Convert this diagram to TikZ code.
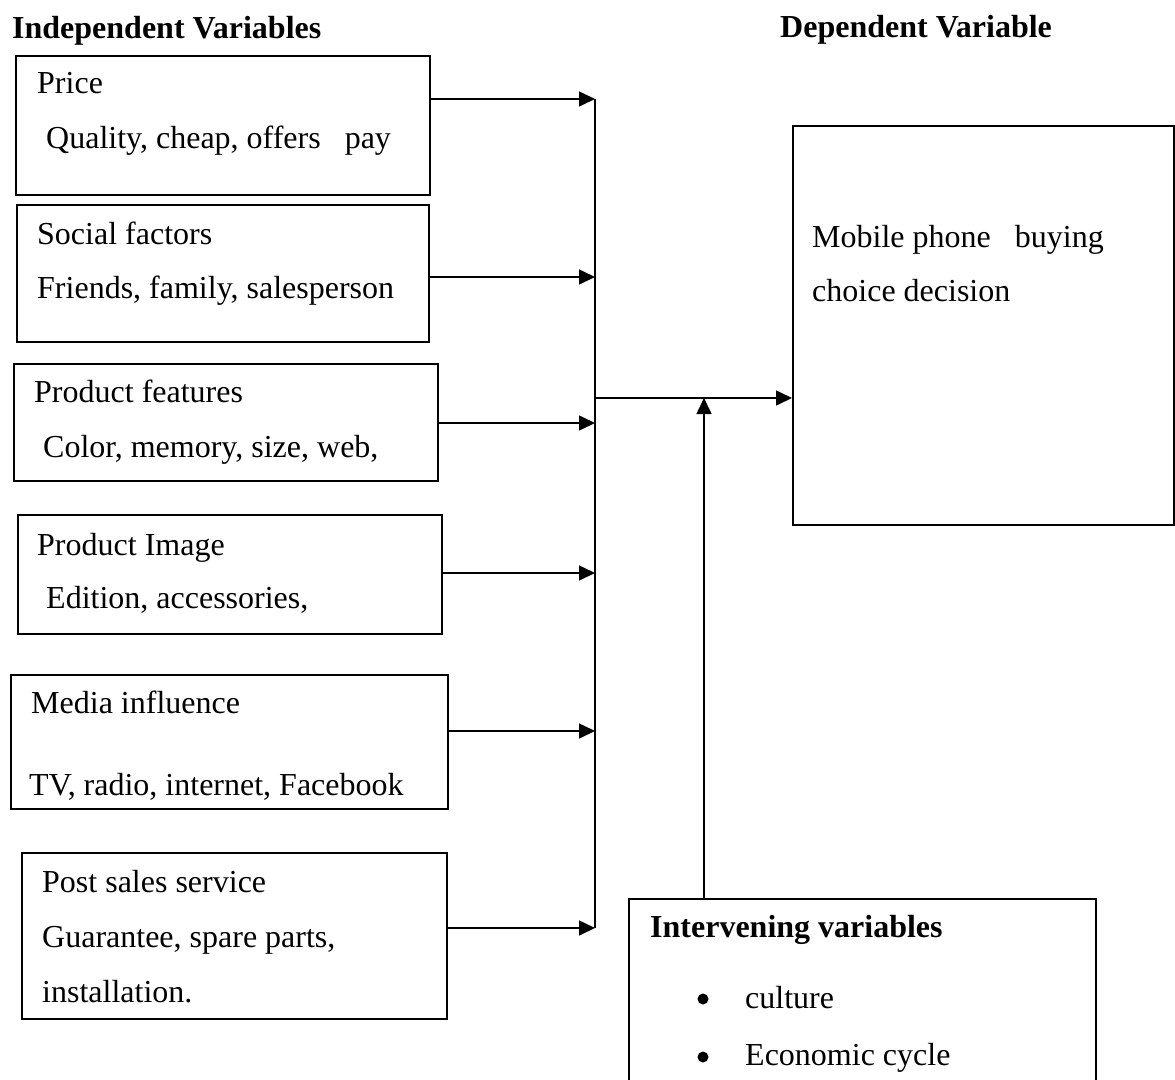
\documentclass[tikz,border=0pt]{standalone}
\usepackage{fontspec}
\setmainfont{Liberation Serif}
\usetikzlibrary{arrows.meta}

\begin{document}
\begin{tikzpicture}[x=1pt,y=-1pt,
    varbox/.style={draw, line width=1.6pt, inner sep=0pt, anchor=north west},
    txt/.style={anchor=base west, inner sep=0pt, font=\fontsize{32}{38}\selectfont},
    head/.style={anchor=base west, inner sep=0pt, font=\fontsize{32}{38}\selectfont\bfseries},
    dot/.style={circle, fill, inner sep=0pt, minimum size=11pt},
    flow/.style={line width=1.6pt, -{Triangle[length=16pt,width=15pt]}}]
    \useasboundingbox (0,0) rectangle (1175,1079);
    \clip (0,0) rectangle (1175,1079);

    % titles
    \node[head] (indep) at (12,38) {Independent Variables};
    \node[head] (dept) at (780,37) {Dependent Variable};

    % independent variables
    \node[varbox, minimum width=414pt, minimum height=139pt] (price) at (15,55) {};
    \node[txt] (pricea) at (37,93) {Price};
    \node[txt] (priceb) at (46,148) {Quality, cheap, offers \ \ pay};

    \node[varbox, minimum width=412pt, minimum height=137pt] (social) at (16,204) {};
    \node[txt] (sociala) at (37,244) {Social factors};
    \node[txt] (socialb) at (37,298) {Friends, family, salesperson};

    \node[varbox, minimum width=424pt, minimum height=117pt] (feat) at (13,363) {};
    \node[txt] (feata) at (34,402) {Product features};
    \node[txt] (featb) at (43,457) {Color, memory, size, web,};

    \node[varbox, minimum width=424pt, minimum height=119pt] (image) at (17,514) {};
    \node[txt] (imagea) at (37,555) {Product Image};
    \node[txt] (imageb) at (46,608) {Edition, accessories,};

    \node[varbox, minimum width=437pt, minimum height=134pt] (media) at (10,674) {};
    \node[txt] (mediaa) at (31,713) {Media influence};
    \node[txt] (mediab) at (29,795) {TV, radio, internet, Facebook};

    \node[varbox, minimum width=425pt, minimum height=166pt] (post) at (21,852) {};
    \node[txt] (posta) at (42,892) {Post sales service};
    \node[txt] (postb) at (42,947) {Guarantee, spare parts,};
    \node[txt] (postc) at (42,1002) {installation.};

    % dependent variable
    \node[varbox, minimum width=381pt, minimum height=399pt] (dep) at (792,125) {};
    \node[txt] (depa) at (812,247) {Mobile phone \ \ buying};
    \node[txt] (depb) at (812,301) {choice decision};

    % intervening variables
    \node[varbox, minimum width=467pt, minimum height=220pt] (inter) at (628,898) {};
    \node[head] (intera) at (650,937) {Intervening variables};
    \node[dot] (bul1) at (703,999) {};
    \node[txt] (interb) at (745,1008) {culture};
    \node[dot] (bul2) at (703,1057) {};
    \node[txt] (interc) at (745,1065) {Economic cycle};

    % collecting line
    \coordinate (b1) at (595,99);
    \coordinate (b2) at (595,277);
    \coordinate (b3) at (595,423);
    \coordinate (b4) at (595,573);
    \coordinate (b5) at (595,731);
    \coordinate (b6) at (595,928);
    \coordinate (hub) at (595,398);
    \coordinate (up) at (704,398);

    \draw[flow] (price.east |- b1) -- (b1);
    \draw[flow] (social.east |- b2) -- (b2);
    \draw[flow] (feat.east |- b3) -- (b3);
    \draw[flow] (image.east |- b4) -- (b4);
    \draw[flow] (media.east |- b5) -- (b5);
    \draw[flow] (post.east |- b6) -- (b6);
    \draw[line width=1.6pt] (b1) -- (b6);
    \draw[flow] (hub) -- (dep.west |- hub);
    \draw[flow] (inter.north -| up) -- (up);
\end{tikzpicture}
\end{document}
